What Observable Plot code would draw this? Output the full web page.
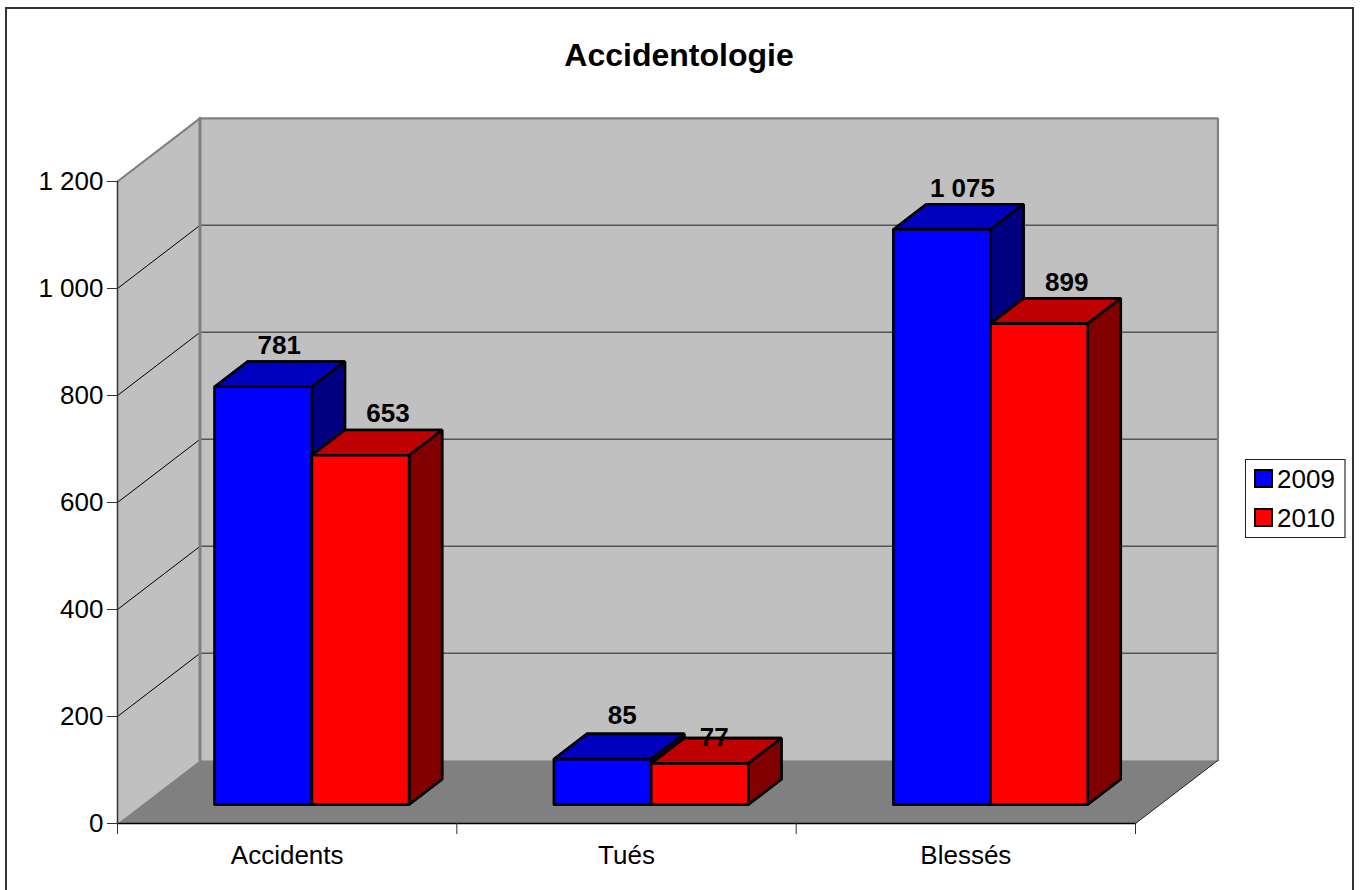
<!DOCTYPE html>
<html lang="fr">
<head>
<meta charset="utf-8">
<script src="https://cdn.jsdelivr.net/npm/d3@7"></script>
<script src="https://cdn.jsdelivr.net/npm/@observablehq/plot@0.6"></script>
<style>
html,body{margin:0;padding:0;background:#fff;overflow:hidden}
#page{position:relative;width:1361px;height:890px;overflow:hidden;font-family:"Liberation Sans",Arial,sans-serif}
#frame{position:absolute;left:5px;top:7px;width:1345px;height:900px;border:2px solid #333;box-sizing:content-box}
#title{position:absolute;left:0;width:1358px;top:36px;text-align:center;font-size:32px;font-weight:bold;line-height:38px;color:#000}
#chart{position:absolute;left:0;top:0}
#legend{position:absolute;left:1245px;top:459px;width:98px;height:77px;border:1px solid #222;border-right:2px solid #808080;background:#fff}
.item{position:absolute;left:8px;font-size:26px;line-height:28px;color:#000;white-space:nowrap}
.sw{display:inline-block;position:absolute;left:0;top:4px;width:15px;height:15px;border:2px solid #000}
.item span.t{margin-left:23px}
</style>
</head>
<body>
<div id="page">
<div id="frame"></div>
<div id="title">Accidentologie</div>
<div id="chart"></div>
<div id="legend"></div>
</div>
<script>
const categories = ["Accidents", "Tués", "Blessés"];
const years = ["2009", "2010"];
const values2009 = [781, 85, 1075];
const values2010 = [653, 77, 899];
const yTicks = [0, 200, 400, 600, 800, 1000, 1200];
const catEdges = [0, 1, 2, 3];
const yearColors = ["#0000ff", "#ff0000"];
const topColors = ["#0000bf", "#bf0000"];
const sideColors = ["#000080", "#800000"];

// 3D projection in data units
const DX = 0.243, DY = 118;         // shift of the full depth
const gap = 0.2136, barW = 0.2864;  // category fractions
const d0 = 0.3, d1 = 0.7;           // bar depth extent
const P = (c, v, d = 0) => ({x: c + d * DX, y: v + d * DY});
const fmt = d3.formatLocale({decimal: ",", thousands: " ", grouping: [3], currency: ["", ""]}).format(",d");

const poly = (pts, o) => Plot.line([...pts, pts[0]], {x: "x", y: "y", strokeLinejoin: "miter", ...o});
const seg = (pts, o) => Plot.line(pts, {x: "x", y: "y", ...o});

const marks = [];
// walls and floor
marks.push(poly([P(0,0,0),P(0,0,1),P(0,1200,1),P(0,1200,0)], {fill: "#c0c0c0", stroke: "none"}));
marks.push(poly([P(0,0,1),P(3,0,1),P(3,1200,1),P(0,1200,1)], {fill: "#c0c0c0", stroke: "none"}));
marks.push(poly([P(0,0,0),P(3,0,0),P(3,0,1),P(0,0,1)], {fill: "#808080", stroke: "none"}));
// gridlines
for (const v of yTicks.slice(1, -1)) {
  marks.push(seg([P(0,v,0),P(0,v,1)], {stroke: "#000", strokeWidth: 1}));
  marks.push(seg([P(0,v,1),P(3,v,1)], {stroke: "#555", strokeWidth: 1.5}));
}
// wall edges
marks.push(seg([P(0,1200,0),P(0,1200,1),P(3,1200,1),P(3,0,1)], {stroke: "#808080", strokeWidth: 2.2, strokeLinejoin: "miter"}));
marks.push(seg([P(0,0,1),P(0,1200,1)], {stroke: "#808080", strokeWidth: 3}));
marks.push(seg([P(3,0,0),P(3,0,1)], {stroke: "#222", strokeWidth: 1}));
marks.push(seg([P(0,0,0),P(0,1200,0)], {stroke: "#333", strokeWidth: 1.5}));
marks.push(seg([P(0,0,0),P(3,0,0)], {stroke: "#000", strokeWidth: 1.5}));

// bars
const series = [values2009, values2010];
categories.forEach((_, c) => {
  series.forEach((vals, s) => {
    const v = vals[c], a = c + gap + s * barW, b = a + barW;
    const o = {strokeWidth: 2.6, stroke: "#000"};
    marks.push(poly([P(a,0,d0),P(b,0,d0),P(b,0,d1),P(b,v,d1),P(a,v,d1),P(a,v,d0)], {...o, fill: sideColors[s]}));
    marks.push(poly([P(a,v,d0),P(b,v,d0),P(b,v,d1),P(a,v,d1)], {...o, fill: topColors[s]}));
    marks.push(poly([P(b,0,d0),P(b,0,d1),P(b,v,d1),P(b,v,d0)], {...o, fill: sideColors[s]}));
    marks.push(poly([P(a,0,d0),P(b,0,d0),P(b,v,d0),P(a,v,d0)], {...o, fill: yearColors[s]}));
  });
});

// value labels, each with the small placement nudge seen in the reference
const nudgeX = [[-0.5, 11], [3, -2], [4, 11]];
const nudgeY = [[-7, -8], [-10, 8], [-7, -7]];
categories.forEach((_, c) => {
  series.forEach((vals, s) => {
    const a = c + gap + s * barW;
    const row = {x: P(a + barW / 2, vals[c], (d0 + d1) / 2).x, y: P(a, vals[c], d1).y, text: fmt(vals[c])};
    marks.push(Plot.text([row], {x: "x", y: "y", text: "text", fontWeight: "bold", fontSize: 26, lineAnchor: "bottom", dx: nudgeX[c][s], dy: nudgeY[c][s]}));
  });
});

// axes
marks.push(Plot.axisY({ticks: yTicks, tickSize: 10, tickPadding: 4, tickFormat: fmt, label: null, stroke: "#333", fill: "#000", fontSize: 26}));
marks.push(Plot.axisX({ticks: catEdges, tickSize: 11, tickFormat: () => "", label: null, stroke: "#333"}));
marks.push(Plot.axisX({ticks: [0.5, 1.5, 2.5], tickSize: 0, tickPadding: 22, tickFormat: t => categories[t - 0.5], label: null, fill: "#000", fontSize: 26}));

const chart = Plot.plot({
  width: 1361, height: 890,
  marginLeft: 117, marginRight: 226, marginTop: 181, marginBottom: 67,
  x: {type: "linear", domain: [0, 3], range: [117, 1135]},
  y: {type: "linear", domain: [0, 1200], range: [823, 181]},
  style: {background: "none", fontFamily: "'Liberation Sans', Arial, sans-serif", fontSize: "26px", color: "#000"},
  marks
});
document.getElementById("chart").append(chart);

const legend = document.getElementById("legend");
years.forEach((y, i) => {
  const it = document.createElement("div");
  it.className = "item";
  it.style.top = (i === 0 ? 5 : 44) + "px";
  it.innerHTML = `<span class="sw" style="background:${yearColors[i]}"></span><span class="t">${y}</span>`;
  legend.append(it);
});
</script>
</body>
</html>
